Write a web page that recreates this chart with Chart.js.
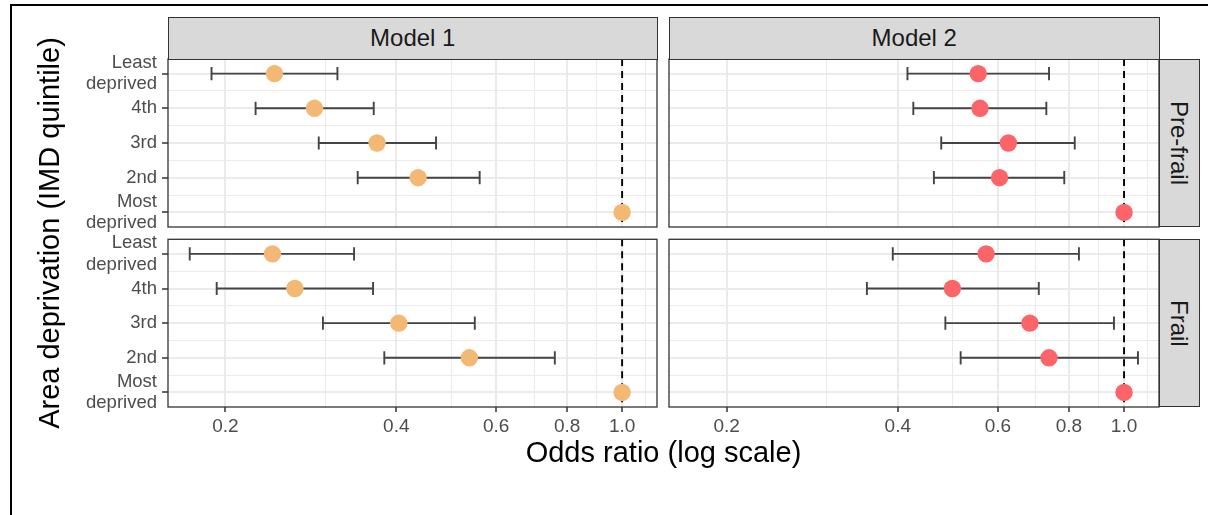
<!DOCTYPE html>
<html>
<head>
<meta charset="utf-8">
<script src="https://cdn.jsdelivr.net/npm/chart.js@4.4.0/dist/chart.umd.min.js"></script>
<style>
  body { margin: 0; background: #fff; }
  #page { position: relative; width: 1208px; height: 515px; overflow: hidden; font-family: 'Liberation Sans', Arial, sans-serif; }
  .box { position: absolute; }
  .strip { position: absolute; background: #D9D9D9; border: 1.3px solid #333; box-sizing: border-box;
           color: #1A1A1A; font-size: 24px; display: flex; align-items: center; justify-content: center; }
  .vert { writing-mode: vertical-rl; }
  .line { position: absolute; background: #000; }
</style>
</head>
<body>
<div id="page">
  <div class="line" style="left:10px;top:4px;width:1198px;height:2px"></div>
  <div class="line" style="left:10px;top:4px;width:2px;height:511px"></div>

  <div class="box" style="left:0;top:50px;width:666px;height:186px"><canvas id="m1pre"></canvas></div>
  <div class="box" style="left:0;top:230px;width:666px;height:285px"><canvas id="m1frail"></canvas></div>
  <div class="box" style="left:660px;top:50px;width:508px;height:186px"><canvas id="m2pre"></canvas></div>
  <div class="box" style="left:660px;top:230px;width:508px;height:285px"><canvas id="m2frail"></canvas></div>

  <div class="strip" style="left:168px;top:17px;width:489.5px;height:42.5px">Model 1</div>
  <div class="strip" style="left:669px;top:17px;width:490.5px;height:42.5px">Model 2</div>
  <div class="strip vert" style="left:1158.5px;top:59px;width:41.5px;height:168px">Pre-frail</div>
  <div class="strip vert" style="left:1158.5px;top:239.3px;width:41.5px;height:167.7px">Frail</div>

  <div style="position:absolute;left:463.5px;top:438px;width:400px;text-align:center;font-size:29px;line-height:29px;color:#000">Odds ratio (log scale)</div>
  <div style="position:absolute;left:-161.5px;top:218px;width:420px;height:30px;line-height:30px;text-align:center;font-size:29px;color:#000;transform:rotate(-90deg)">Area deprivation (IMD quintile)</div>
</div>

<script>
const rowLabels = [['Least', 'deprived'], '4th', '3rd', '2nd', ['Most', 'deprived']];
const xBreaks = [0.2, 0.4, 0.6, 0.8, 1.0];
const xBreakLabels = ['0.2', '0.4', '0.6', '0.8', '1.0'];
const xMinor = [0.3, 0.5, 0.7, 0.9, 1.1];

// Model 1, pre-frail
const m1PreOR = [0.244, 0.287, 0.370, 0.437, 1.0];
const m1PreLo = [0.189, 0.226, 0.292, 0.342, null];
const m1PreHi = [0.315, 0.365, 0.470, 0.561, null];
// Model 1, frail
const m1FrailOR = [0.242, 0.265, 0.404, 0.538, 1.0];
const m1FrailLo = [0.173, 0.193, 0.297, 0.381, null];
const m1FrailHi = [0.337, 0.364, 0.550, 0.761, null];
// Model 2, pre-frail
const m2PreOR = [0.554, 0.558, 0.626, 0.604, 1.0];
const m2PreLo = [0.416, 0.426, 0.477, 0.463, null];
const m2PreHi = [0.738, 0.730, 0.819, 0.785, null];
// Model 2, frail
const m2FrailOR = [0.572, 0.499, 0.683, 0.738, 1.0];
const m2FrailLo = [0.392, 0.353, 0.485, 0.516, null];
const m2FrailHi = [0.833, 0.708, 0.960, 1.058, null];

const refLine = 1.0;
const capH = 0.19;
const xMin = 0.1584, xMax = 1.152;
const yMin = -0.42, yMax = 4.42;
const FONT = "'Liberation Sans', Arial, sans-serif";

function near(v, list) { return list.findIndex(b => Math.abs(b - v) < 1e-9); }

function errorPath(lo, hi) {
    const pts = [];
    lo.forEach((l, i) => {
        if (l == null) return;
        const h = hi[i];
        pts.push({x: l, y: i - capH}, {x: l, y: i + capH}, {x: null, y: null},
                 {x: l, y: i}, {x: h, y: i}, {x: null, y: null},
                 {x: h, y: i - capH}, {x: h, y: i + capH}, {x: null, y: null});
    });
    return pts;
}

const panelBorder = {
    id: 'panelBorder',
    afterDraw(chart) {
        const a = chart.chartArea, c = chart.ctx;
        c.save();
        c.strokeStyle = '#333333';
        c.lineWidth = 1.3;
        c.strokeRect(a.left, a.top, a.right - a.left, a.bottom - a.top);
        c.restore();
    }
};

function makePanel(id, or, lo, hi, colour, cfg) {
    new Chart(document.getElementById(id), {
        type: 'scatter',
        data: { datasets: [
            { data: or.map((v, i) => ({x: v, y: i})), backgroundColor: colour, borderWidth: 0, pointRadius: 8.7, order: 0 },
            { data: errorPath(lo, hi), showLine: true, spanGaps: false, borderColor: '#444444', borderWidth: 1.9, pointRadius: 0, order: 1 },
            { data: [{x: refLine, y: yMin}, {x: refLine, y: yMax}], showLine: true, borderColor: '#000', borderWidth: 1.9,
              borderDash: [7, 5], pointRadius: 0, order: 2 }
        ]},
        options: {
            responsive: true, maintainAspectRatio: false, animation: false, events: [],
            layout: { padding: cfg.padding },
            plugins: { legend: { display: false }, tooltip: { enabled: false } },
            scales: {
                x: {
                    type: 'logarithmic', min: xMin, max: xMax,
                    afterBuildTicks: s => { s.ticks = xBreaks.concat(xMinor).sort((a, b) => a - b).map(v => ({value: v})); },
                    afterFit: s => { s.height = cfg.xHeight; s.paddingLeft = 0; s.paddingRight = 0; },
                    border: { display: false },
                    grid: {
                        color: '#EBEBEB',
                        lineWidth: c => (c.tick && near(c.tick.value, xBreaks) >= 0) ? 2 : 1,
                        drawTicks: cfg.showX, tickLength: 5, tickWidth: 1.5,
                        tickColor: c => (c.tick && near(c.tick.value, xBreaks) >= 0) ? '#333333' : 'rgba(0,0,0,0)'
                    },
                    ticks: {
                        display: cfg.showX, autoSkip: false, maxRotation: 0, padding: 3, color: '#4D4D4D',
                        font: { family: FONT, size: 19 },
                        callback: v => { const k = near(v, xBreaks); return k < 0 ? '' : xBreakLabels[k]; }
                    }
                },
                y: {
                    type: 'linear', reverse: true, min: yMin, max: yMax,
                    afterBuildTicks: s => { s.ticks = [0, 0.5, 1, 1.5, 2, 2.5, 3, 3.5, 4].map(v => ({value: v})); },
                    afterFit: s => { s.width = cfg.yWidth; s.paddingTop = 0; s.paddingBottom = 0; },
                    border: { display: false },
                    grid: {
                        color: '#EBEBEB',
                        lineWidth: c => (c.tick && Number.isInteger(c.tick.value)) ? 2 : 1,
                        drawTicks: cfg.showY, tickLength: 6, tickWidth: 1.5,
                        tickColor: c => (c.tick && Number.isInteger(c.tick.value)) ? '#333333' : 'rgba(0,0,0,0)'
                    },
                    ticks: {
                        display: cfg.showY, autoSkip: false, padding: 5, color: '#4D4D4D',
                        font: { family: FONT, size: 18.5, lineHeight: 1.15 },
                        callback: v => Number.isInteger(v) ? rowLabels[v] : ''
                    }
                }
            }
        },
        plugins: [panelBorder]
    });
}

const orange = '#F3B874';
const red = '#FB6468';

makePanel('m1pre', m1PreOR, m1PreLo, m1PreHi, orange,
    { padding: {top: 9, right: 9, bottom: 9, left: 0}, xHeight: 0, yWidth: 168, showX: false, showY: true });
makePanel('m1frail', m1FrailOR, m1FrailLo, m1FrailHi, orange,
    { padding: {top: 9.3, right: 9, bottom: 0, left: 0}, xHeight: 108, yWidth: 168, showX: true, showY: true });
makePanel('m2pre', m2PreOR, m2PreLo, m2PreHi, red,
    { padding: {top: 9, right: 9, bottom: 9, left: 9}, xHeight: 0, yWidth: 0, showX: false, showY: false });
makePanel('m2frail', m2FrailOR, m2FrailLo, m2FrailHi, red,
    { padding: {top: 9.3, right: 9, bottom: 0, left: 9}, xHeight: 108, yWidth: 0, showX: true, showY: false });
</script>
</body>
</html>
